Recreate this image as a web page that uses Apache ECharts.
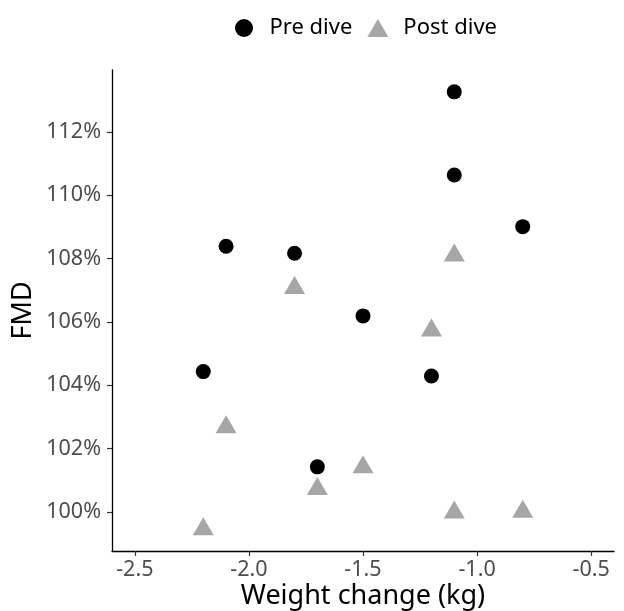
<!DOCTYPE html>
<html>
<head>
<meta charset="utf-8">
<script src="https://cdn.jsdelivr.net/npm/echarts@6/dist/echarts.min.js"></script>
<style>
  html, body { margin: 0; padding: 0; background: #fff; }
  #chart { width: 624px; height: 611px; }
</style>
</head>
<body>
<div id="chart"></div>
<script>
// values
const preWeight = [-1.1, -1.1, -0.8, -2.1, -1.8, -1.5, -2.2, -1.2, -1.7];
const preFmd = [113.27, 110.64, 109.01, 108.39, 108.17, 106.19, 104.43, 104.29, 101.42];
const postWeight = [-1.1, -1.8, -1.2, -2.1, -1.5, -1.7, -1.1, -0.8, -2.2];
const postFmd = [108.10, 107.07, 105.73, 102.67, 101.41, 100.72, 99.98, 100.0, 99.45];
const xTicks = [-2.5, -2.0, -1.5, -1.0, -0.5];
const yTicks = [100, 102, 104, 106, 108, 110, 112];

const font = 'Noto Sans';
const chart = echarts.init(document.getElementById('chart'));

const pairs = (xs, ys) => xs.map((x, i) => [x, ys[i]]);

chart.setOption({
    animation: false,
    textStyle: { fontFamily: font },
    legend: {
        top: 12,
        left: 230,
        itemGap: 15,
        itemWidth: 21,
        itemHeight: 18,
        textStyle: { fontSize: 22, color: '#000', padding: [0, 0, 0, 10] },
        data: [
            { name: 'Pre dive', icon: 'circle' },
            { name: 'Post dive', icon: 'triangle' }
        ]
    },
    grid: { left: 112, right: 10, top: 70, bottom: 60, outerBoundsMode: 'none' },
    xAxis: {
        type: 'value',
        min: -2.6,
        max: -0.4,
        name: 'Weight change (kg)',
        nameLocation: 'middle',
        nameGap: 32,
        nameMoveOverlap: false,
        nameTextStyle: { fontSize: 27, color: '#000' },
        splitLine: { show: false },
        axisLine: { onZero: false, lineStyle: { color: '#000', width: 1.3 } },
        axisTick: { customValues: xTicks, length: 5, lineStyle: { color: '#333', width: 1.2 } },
        axisLabel: {
            customValues: xTicks,
            margin: 8,
            fontSize: 21.5,
            color: '#4D4D4D',
            formatter: v => v.toFixed(1)
        }
    },
    yAxis: {
        type: 'value',
        min: 98.76,
        max: 113.96,
        name: 'FMD',
        nameLocation: 'middle',
        nameGap: 75,
        nameMoveOverlap: false,
        nameTextStyle: { fontSize: 27, color: '#000' },
        splitLine: { show: false },
        axisLine: { show: true, onZero: false, lineStyle: { color: '#000', width: 1.3 } },
        axisTick: { show: true, customValues: yTicks, length: 5, lineStyle: { color: '#333', width: 1.2 } },
        axisLabel: {
            customValues: yTicks,
            margin: 11,
            fontSize: 21.5,
            color: '#4D4D4D',
            formatter: v => v + '%'
        }
    },
    series: [
        {
            name: 'Pre dive',
            type: 'scatter',
            symbol: 'circle',
            symbolSize: 15,
            itemStyle: { color: '#000', opacity: 1 },
            data: pairs(preWeight, preFmd)
        },
        {
            name: 'Post dive',
            type: 'scatter',
            symbol: 'triangle',
            symbolSize: [21, 18],
            symbolOffset: [0, -3],
            itemStyle: { color: '#A6A6A6', opacity: 1 },
            data: pairs(postWeight, postFmd)
        }
    ]
});
</script>
</body>
</html>
